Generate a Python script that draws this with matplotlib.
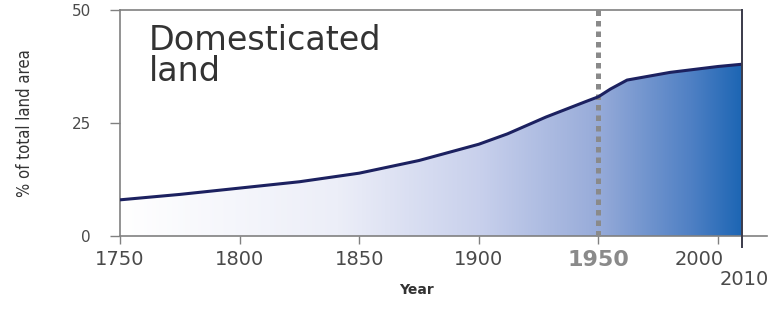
import numpy as np
import matplotlib.pyplot as plt
from matplotlib.patches import Polygon
from matplotlib.colors import LinearSegmentedColormap

# Domesticated land, % of total land area
years = [1750, 1775, 1800, 1825, 1850, 1875, 1900, 1912, 1928, 1945, 1950, 1955, 1962, 1980, 2000, 2010]
share = [8.0, 9.2, 10.6, 12.0, 13.9, 16.7, 20.3, 22.6, 26.3, 29.8, 30.8, 32.5, 34.5, 36.2, 37.5, 38.0]

yticks = [0, 25, 50]
xticks = [1750, 1800, 1850, 1900, 2000]

fig = plt.figure(figsize=(7.81, 3.10), dpi=100)
ax = fig.add_axes([120 / 781, 74 / 310, 647 / 781, 226 / 310])
ax.set_xlim(1750, 2020.5)
ax.set_ylim(0, 50)

# gradient fill under the curve
cmap = LinearSegmentedColormap.from_list('dom', [
    (0.0, '#ffffff'), (0.35, '#eceef8'), (0.58, '#c8d0ec'),
    (0.77, '#97abd9'), (0.92, '#4f80c4'), (1.0, '#1d66b4')])
grad = np.linspace(0, 1, 256).reshape(1, -1)
im = ax.imshow(grad, extent=[1750, 2010, 0, 50], aspect='auto', cmap=cmap, origin='lower', zorder=1)
poly = Polygon(list(zip(years, share)) + [(2010, 0), (1750, 0)], closed=True, transform=ax.transData)
im.set_clip_path(poly)

ax.plot(years, share, color='#1c2160', lw=2.2, zorder=4, solid_capstyle='butt')

# 1950 marker
ax.plot([1950, 1950], [0, 50], color='#8a8a8a', lw=3.6, linestyle=(0, (1.1, 1.0)),
        dash_capstyle='butt', zorder=3, clip_on=False)

# frame
for s in ['top', 'right']:
    ax.spines[s].set_visible(False)
for s in ['left', 'bottom']:
    ax.spines[s].set_color('#808080')
    ax.spines[s].set_linewidth(1.2)
ax.plot([1750, 2010], [50, 50], color='#808080', lw=1.2, clip_on=False, zorder=5)
ax.plot([2010, 2010], [-2.5, 50], color='#3a3a4a', lw=1.4, clip_on=False, zorder=5)

ax.set_yticks(yticks)
ax.set_yticklabels([str(v) for v in yticks])
ax.set_xticks(xticks + [1950])
ax.set_xticklabels([])
ax.tick_params(axis='both', direction='out', color='#808080', width=1.0)
ax.tick_params(axis='y', length=7, pad=14, labelsize=11, labelcolor='#4a4a4a')
ax.tick_params(axis='x', length=6)

for x in [1750, 1800, 1850, 1900]:
    ax.text(x, -3.0, str(x), ha='center', va='top', fontsize=14, color='#4a4a4a')
ax.text(1950, -3.0, '1950', ha='center', va='top', fontsize=16, color='#8a8a8a', fontweight='bold')
ax.text(1992, -3.0, '2000', ha='center', va='top', fontsize=14, color='#4a4a4a')
ax.text(2011, -7.6, '2010', ha='center', va='top', fontsize=14, color='#4a4a4a')
ax.text(1874, -10.3, 'Year', ha='center', va='top', fontsize=10, color='#333333', fontweight='bold')

ax.text(1762, 46.8, 'Domesticated\nland', ha='left', va='top', fontsize=24,
        color='#333333', linespacing=0.9, fontweight='medium')

fig.text(25 / 781, 1 - 123 / 310, '% of total land area', rotation=90, ha='center', va='center',
         fontsize=12, color='#333333', fontstretch='condensed', family=['DejaVu Sans'])

fig.savefig('out.png', dpi=100)
